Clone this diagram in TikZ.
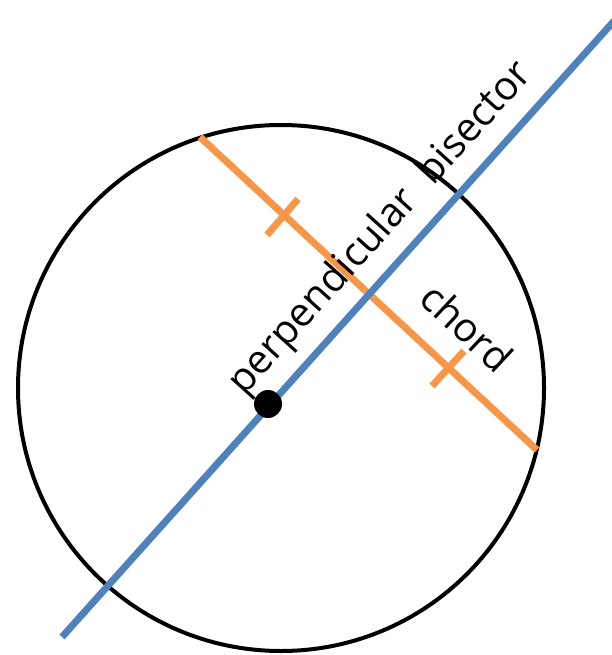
\documentclass[tikz,border=0pt]{standalone}
\usepackage{fontspec}
\setmainfont{Open Sans}
\definecolor{bisblue}{HTML}{4F81BD}
\definecolor{chordorange}{HTML}{F79646}
\begin{document}
\begin{tikzpicture}[x=1pt,y=-1pt,
  circ/.style={draw=black,line width=4pt},
  bis/.style={draw=bisblue,line width=7pt},
  chd/.style={draw=chordorange,line width=7pt},
  lbl/.style={font=\fontsize{40}{44}\selectfont,inner sep=0pt}]
\useasboundingbox (0,0) rectangle (612,655);
\coordinate (O) at (281,388);
\draw[circ] (O) circle[radius=263];
\coordinate (C1) at (200,137);
\coordinate (C2) at (537,450);
\draw[chd] (C1) -- (C2);
\coordinate (T1a) at (267,235);
\coordinate (T1b) at (298,199);
\coordinate (T2a) at (432,386);
\coordinate (T2b) at (464,351);
\draw[chd] (T1a) -- (T1b);
\draw[chd] (T2a) -- (T2b);
\coordinate (B1) at (62,637);
\coordinate (B2) at (614,21);
\draw[bis] (B1) -- (B2);
\node[circle,fill=black,minimum size=28pt,inner sep=0pt] (dot) at (268,404) {};
\node[lbl,rotate=48] (pb) at (381,229) {perpendicular\ \ bisector};
\node[lbl,rotate=-43] (ch) at (467,327) {chord};
\end{tikzpicture}
\end{document}
